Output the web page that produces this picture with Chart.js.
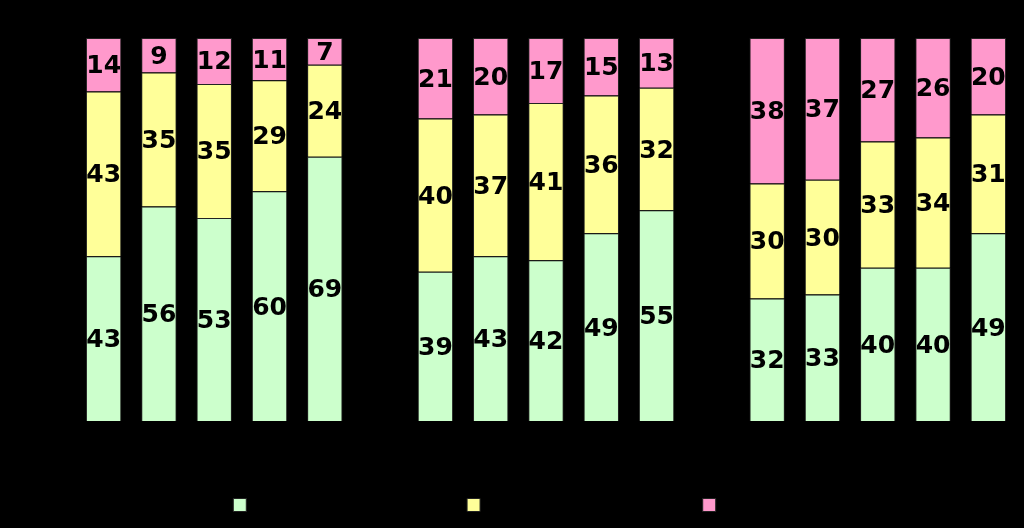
<!DOCTYPE html>
<html>
<head>
<meta charset="utf-8">
<script src="https://cdn.jsdelivr.net/npm/chart.js@4/dist/chart.umd.min.js"></script>
<style>
  html, body { margin: 0; padding: 0; background: #000; }
  #wrap { width: 1024px; height: 528px; }
</style>
</head>
<body>
<div id="wrap"><canvas id="chart"></canvas></div>
<script>
// categories: 3 groups of 5 bars, empty slot between groups
const categories = ["1", "2", "3", "4", "5", "", "1", "2", "3", "4", "5", "", "1", "2", "3", "4", "5"];
const seriesNames = ["Understood the material well", "Understood it to some extent", "Did not follow at all"];
// values in percent, bottom to top
const greenValues  = [43, 56, 53, 60, 69, null, 39, 43, 42, 49, 55, null, 32, 33, 40, 40, 49];
const yellowValues = [43, 35, 35, 29, 24, null, 40, 37, 41, 36, 32, null, 30, 30, 33, 34, 31];
const pinkValues   = [14, 9, 12, 11, 7, null, 21, 20, 17, 15, 13, null, 38, 37, 27, 26, 20];

// draws the value in the middle of every bar segment
const segmentLabels = {
    id: "segmentLabels",
    afterDatasetsDraw(chart) {
        const ctx = chart.ctx;
        ctx.save();
        ctx.font = "bold 25px 'DejaVu Sans', Verdana, sans-serif";
        ctx.fillStyle = "#000";
        ctx.textAlign = "center";
        ctx.textBaseline = "middle";
        chart.data.datasets.forEach((ds, i) => {
            const meta = chart.getDatasetMeta(i);
            meta.data.forEach((bar, j) => {
                const v = ds.data[j];
                if (v == null) return;
                const mid = (bar.y + bar.base) / 2;
                ctx.fillText(v, bar.x, mid + 2);
            });
        });
        ctx.restore();
    }
};

const ctx = document.getElementById("chart").getContext("2d");
new Chart(ctx, {
    type: "bar",
    data: {
        labels: categories,
        datasets: [
            { label: seriesNames[0], data: greenValues, backgroundColor: "#CCFFCC" },
            { label: seriesNames[1], data: yellowValues, backgroundColor: "#FFFF99" },
            { label: seriesNames[2], data: pinkValues, backgroundColor: "#FF99CC" }
        ]
    },
    options: {
        responsive: true,
        maintainAspectRatio: false,
        animation: false,
        datasets: {
            bar: {
                borderColor: "#222",
                borderWidth: 1,
                barPercentage: 0.64,
                categoryPercentage: 1
            }
        },
        layout: { padding: { left: 76, right: 8, top: 38, bottom: 6 } },
        plugins: {
            tooltip: { enabled: false },
            legend: {
                position: "bottom",
                labels: {
                    color: "#000",
                    boxWidth: 13,
                    boxHeight: 13,
                    padding: 10,
                    font: { size: 14, family: "'DejaVu Sans', Verdana, sans-serif" }
                }
            }
        },
        scales: {
            x: {
                stacked: true,
                grid: { display: false },
                border: { display: false },
                ticks: { color: "#000" },
                afterFit: (scale) => { scale.height = 67; }
            },
            y: {
                stacked: true,
                display: false,
                min: 0,
                max: 100
            }
        }
    },
    plugins: [segmentLabels]
});
</script>
</body>
</html>
